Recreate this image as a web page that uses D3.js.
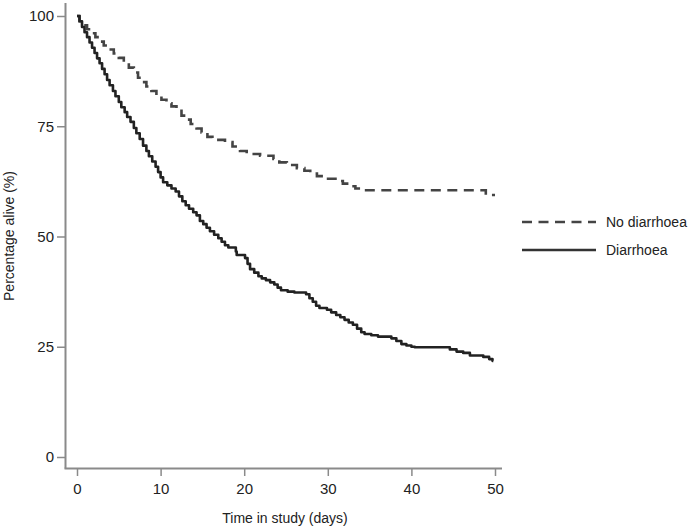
<!DOCTYPE html>
<html>
<head>
<meta charset="utf-8">
<script src="https://cdn.jsdelivr.net/npm/d3@7"></script>
<style>
  body { margin: 0; background: #fff; }
  svg { display: block; }
  text { font-family: "Liberation Sans", Arial, Helvetica, sans-serif; fill: #222; }
</style>
</head>
<body>
<svg id="chart" width="700" height="529"></svg>
<script>
// ---- data ----
const xTicks = [0, 10, 20, 30, 40, 50];
const yTicks = [0, 25, 50, 75, 100];
const seriesNames = ["No diarrhoea", "Diarrhoea"];

const noDiarrhoeaTime = [0, 0.3, 0.7, 1.2, 1.7, 2.2, 2.7, 3.2, 3.8, 4.4, 5.0, 5.6, 6.2, 6.8, 7.3, 7.8, 8.3, 8.9, 9.5, 10.1,
  10.7, 11.3, 11.9, 12.5, 13.0, 13.6, 14.3, 14.9, 15.6, 16.2, 17.7, 18.6, 19.5, 20.3, 21.9, 23.5, 24.2, 25.1, 26.3, 27.2,
  27.9, 28.7, 29.5, 31.1, 31.8, 32.5, 33.3, 33.9, 48.9, 50];
const noDiarrhoeaPct = [100, 98.8, 97.9, 97.0, 96.1, 95.2, 94.2, 93.3, 92.4, 91.5, 90.5, 89.5, 88.3, 87.2, 86.0, 85.0, 84.0, 83.0, 82.0, 81.0,
  80.2, 79.5, 78.5, 77.4, 76.5, 75.5, 74.5, 73.6, 72.6, 71.9, 71.4, 70.4, 69.4, 68.7, 68.3, 67.6, 66.8, 66.2, 65.5, 64.9,
  64.3, 63.7, 63.1, 62.6, 62.0, 61.4, 60.9, 60.5, 59.4, 59.4];

const diarrhoeaTime = [0, 0.3, 0.6, 0.9, 1.2, 1.5, 1.8, 2.1, 2.4, 2.7, 3.0, 3.3, 3.6, 3.9, 4.3, 4.6, 5.0, 5.3, 5.7, 6.0,
  6.4, 6.8, 7.1, 7.5, 7.9, 8.3, 8.6, 9.0, 9.4, 9.7, 10.0, 10.3, 10.8, 11.3, 11.8, 12.2, 12.6, 13.0, 13.4, 13.9,
  14.3, 14.7, 15.1, 15.5, 15.9, 16.4, 16.9, 17.3, 17.7, 18.1, 19.0, 19.1, 20.1, 20.4, 20.7, 21.2, 21.7, 22.1, 22.6, 23.1,
  23.6, 24.0, 24.4, 25.2, 26.0, 27.4, 27.8, 28.2, 28.6, 29.0, 29.9, 30.4, 31.0, 31.5, 32.0, 32.5, 33.0, 33.5, 34.0, 34.4,
  35.2, 36.0, 37.6, 38.2, 38.8, 39.4, 40.0, 40.4, 44.2, 44.6, 45.4, 46.2, 47.0, 48.6, 49.3, 49.7, 49.8];
const diarrhoeaPct = [100, 98.8, 97.5, 96.3, 95.2, 94.0, 92.8, 91.6, 90.4, 89.3, 88.0, 86.8, 85.5, 84.3, 83.0, 81.8, 80.5, 79.3, 78.2, 77.1,
  76.0, 74.6, 73.4, 72.1, 70.6, 69.4, 68.2, 67.0, 65.8, 64.6, 63.4, 62.3, 61.6, 60.9, 60.2, 59.1, 58.0, 57.1, 56.3, 55.5,
  54.8, 53.5, 52.8, 52.0, 51.2, 50.4, 49.6, 48.8, 48.0, 47.5, 46.6, 45.8, 45.1, 43.8, 42.6, 41.8, 41.0, 40.5, 40.1, 39.6,
  39.1, 38.4, 37.8, 37.5, 37.3, 36.9, 36.0, 35.2, 34.3, 33.8, 33.4, 32.8, 32.2, 31.7, 31.1, 30.5, 30.0, 29.1, 28.3, 27.9,
  27.6, 27.3, 26.9, 26.3, 25.6, 25.3, 25.0, 24.9, 24.9, 24.4, 23.9, 23.6, 23.0, 22.7, 22.2, 21.8, 21.8];

// ---- chart ----
const svg = d3.select("#chart");
const x = d3.scaleLinear().domain([0, 50]).range([77, 495]);
const y = d3.scaleLinear().domain([0, 100]).range([457, 16]);
const axisColor = "#8a8a8a";

// axes lines
svg.append("line").attr("x1", 65.5).attr("x2", 65.5).attr("y1", 3).attr("y2", 468.5)
  .attr("stroke", axisColor).attr("stroke-width", 2);
svg.append("line").attr("x1", 64.5).attr("x2", 502).attr("y1", 468.5).attr("y2", 468.5)
  .attr("stroke", axisColor).attr("stroke-width", 2);

const yAxis = svg.append("g").attr("transform", "translate(65,0)")
  .call(d3.axisLeft(y).tickValues(yTicks).tickSize(8).tickPadding(3).tickFormat(d3.format("d")));
yAxis.select(".domain").remove();
yAxis.selectAll(".tick line").attr("stroke", axisColor).attr("stroke-width", 1.5);
yAxis.selectAll(".tick text").style("font-size", "15px").attr("fill", "#222")
  .style("font-family", "'Liberation Sans', Arial, sans-serif");

const xAxis = svg.append("g").attr("transform", "translate(0,468)")
  .call(d3.axisBottom(x).tickValues(xTicks).tickSize(8).tickPadding(7).tickFormat(d3.format("d")));
xAxis.select(".domain").remove();
xAxis.selectAll(".tick line").attr("stroke", axisColor).attr("stroke-width", 1.5);
xAxis.selectAll(".tick text").style("font-size", "15px").attr("fill", "#222")
  .style("font-family", "'Liberation Sans', Arial, sans-serif");

// titles
svg.append("text").attr("x", 285).attr("y", 523).attr("text-anchor", "middle")
  .style("font-size", "14px").text("Time in study (days)");
svg.append("text").attr("transform", "translate(14,236) rotate(-90)").attr("text-anchor", "middle")
  .style("font-size", "14px").text("Percentage alive (%)");

// curves
const line = d3.line().x(d => x(d[0])).y(d => y(d[1])).curve(d3.curveStepAfter);
const noD = noDiarrhoeaTime.map((t, i) => [t, noDiarrhoeaPct[i]]);
const dia = diarrhoeaTime.map((t, i) => [t, diarrhoeaPct[i]]);

svg.append("path").datum(noD).attr("d", line).attr("fill", "none")
  .attr("stroke", "#444").attr("stroke-width", 2.6).attr("stroke-dasharray", "10,6.5");
svg.append("path").datum(dia).attr("d", line).attr("fill", "none")
  .attr("stroke", "#222").attr("stroke-width", 2.6).attr("stroke-linejoin", "round");

// legend
const legend = [
  { name: seriesNames[0], dash: "10,6.5", color: "#444", y: 222 },
  { name: seriesNames[1], dash: null, color: "#333", y: 250 }
];
legend.forEach(l => {
  svg.append("line").attr("x1", 522).attr("x2", 596).attr("y1", l.y).attr("y2", l.y)
    .attr("stroke", l.color).attr("stroke-width", 2.6)
    .attr("stroke-dasharray", l.dash);
  svg.append("text").attr("x", 606).attr("y", l.y).attr("dy", "0.35em")
    .style("font-size", "14px").text(l.name);
});
</script>
</body>
</html>
